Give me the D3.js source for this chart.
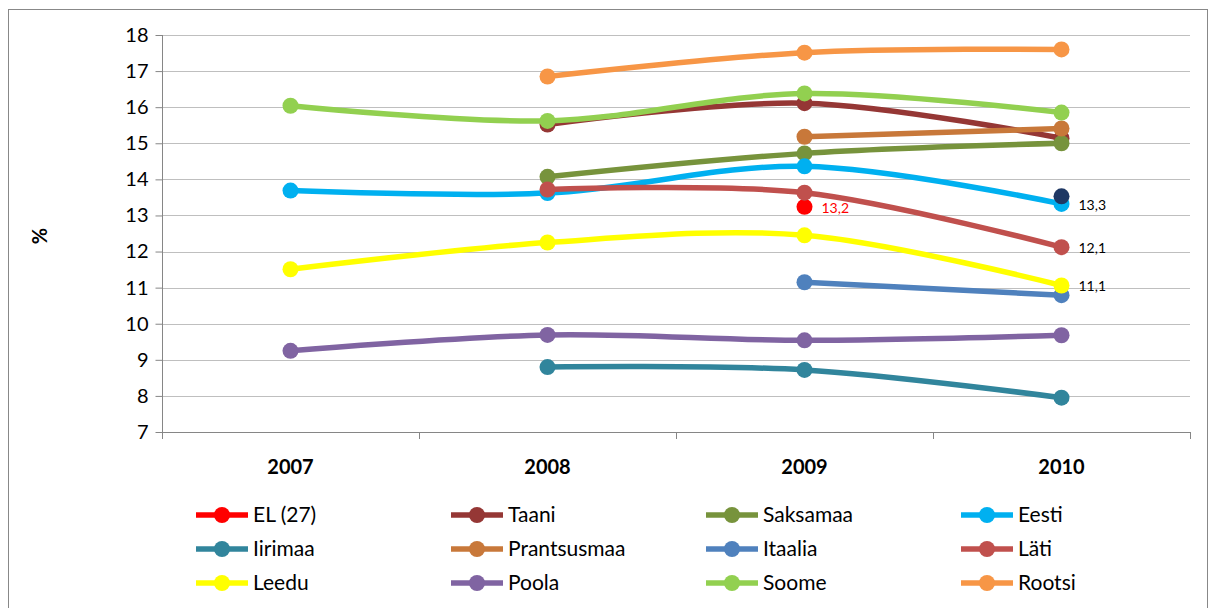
<!DOCTYPE html>
<html>
<head>
<meta charset="utf-8">
<script src="https://cdn.jsdelivr.net/npm/d3@7"></script>
<style>
  body { margin: 0; background: #fff; }
  svg { font-family: Lato, "Open Sans", sans-serif; }
</style>
</head>
<body>
<div id="chart"></div>
<script>
// years on the x axis
var years = ["2007", "2008", "2009", "2010"];
var yTicks = [7, 8, 9, 10, 11, 12, 13, 14, 15, 16, 17, 18];

// values per series, null where the series has no point
var el27        = [null, null, 13.24, null];
var taani       = [null, 15.52, 16.11, 15.14];
var saksamaa    = [null, 14.07, 14.72, 15.0];
var eesti       = [13.69, 13.62, 14.36, 13.32];
var iirimaa     = [null, 8.8, 8.72, 7.95];
var prantsusmaa = [null, null, 15.18, 15.41];
var itaalia     = [null, null, 11.15, 10.79];
var lati        = [null, 13.72, 13.63, 12.12];
var leedu       = [11.51, 12.25, 12.45, 11.06];
var poola       = [9.25, 9.69, 9.54, 9.68];
var soome       = [16.04, 15.62, 16.38, 15.85];
var rootsi      = [null, 16.85, 17.51, 17.6];
var extraPoint  = [null, null, null, 13.53]; // dark point, no legend entry

var seriesNames = ["EL (27)", "Taani", "Saksamaa", "Eesti", "Iirimaa", "Prantsusmaa",
                   "Itaalia", "Läti", "Leedu", "Poola", "Soome", "Rootsi"];
var seriesValues = [el27, taani, saksamaa, eesti, iirimaa, prantsusmaa,
                    itaalia, lati, leedu, poola, soome, rootsi];
var seriesColors = ["#FF0000", "#953735", "#77933C", "#00B0F0", "#31859C", "#C8783A",
                    "#4F81BD", "#C0504D", "#FFFF00", "#8064A2", "#92D050", "#F79646"];

// data labels: [series index, year index, text, color]
var dataLabels = [
  [0, 2, "13,2", "#FF0000"],
  [3, 3, "13,3", "#000"],
  [7, 3, "12,1", "#000"],
  [8, 3, "11,1", "#000"]
];

var width = 1215, height = 608;
var svg = d3.select("#chart").append("svg")
    .attr("width", width)
    .attr("height", height);

// outer chart border
svg.append("rect")
    .attr("x", 8.5).attr("y", 9.5)
    .attr("width", 1199).attr("height", 620)
    .attr("fill", "none")
    .attr("stroke", "#888");

var x = d3.scaleBand().domain(years).range([162, 1190]);
var y = d3.scaleLinear().domain([7, 18]).range([432, 35]);
function cx(i) { return x(years[i]) + x.bandwidth() / 2; }

// gridlines
svg.append("g").selectAll("line")
    .data(yTicks.slice(1))
    .enter().append("line")
    .attr("x1", 162).attr("x2", 1190)
    .attr("y1", function(d) { return Math.round(y(d)) + 0.5; })
    .attr("y2", function(d) { return Math.round(y(d)) + 0.5; })
    .attr("stroke", "#BFBFBF");

// y axis
var yAxis = svg.append("g")
    .attr("transform", "translate(162.5,0)")
    .call(d3.axisLeft(y).tickValues(yTicks).tickSize(7).tickPadding(7));
yAxis.select(".domain").attr("stroke", "#868686").attr("d", "M0," + y(18) + "V" + y(7));
yAxis.selectAll(".tick line").attr("stroke", "#868686");
yAxis.selectAll(".tick text")
    .attr("font-size", 20).attr("fill", "#000")
    .attr("font-family", "Lato, 'Open Sans', sans-serif");

// x axis line and boundary ticks
svg.append("line")
    .attr("x1", 162).attr("x2", 1190)
    .attr("y1", 432.5).attr("y2", 432.5)
    .attr("stroke", "#868686");
var bounds = years.map(function(d) { return x(d); }).concat([x.range()[1]]);
svg.append("g").selectAll("line")
    .data(bounds)
    .enter().append("line")
    .attr("x1", function(d) { return Math.round(d) + 0.5; })
    .attr("x2", function(d) { return Math.round(d) + 0.5; })
    .attr("y1", 432).attr("y2", 439)
    .attr("stroke", "#868686");
svg.append("g").selectAll("text")
    .data(years)
    .enter().append("text")
    .attr("x", function(d) { return x(d) + x.bandwidth() / 2; })
    .attr("y", 474)
    .attr("text-anchor", "middle")
    .attr("font-size", 20).attr("font-weight", "bold")
    .text(function(d) { return d; });

// y axis title
svg.append("text")
    .attr("transform", "translate(47,236) rotate(-90)")
    .attr("text-anchor", "middle")
    .attr("font-size", 20).attr("font-weight", "bold")
    .text("%");

var line = d3.line()
    .defined(function(d) { return d != null; })
    .x(function(d, i) { return cx(i); })
    .y(function(d) { return y(d); })
    .curve(d3.curveCatmullRom.alpha(0.5));

seriesValues.forEach(function(vals, k) {
  var g = svg.append("g");
  g.append("path")
      .attr("d", line(vals))
      .attr("fill", "none")
      .attr("stroke", seriesColors[k])
      .attr("stroke-width", 5.5)
      .attr("stroke-linecap", "round");
  g.selectAll("circle")
      .data(vals.map(function(v, i) { return {v: v, i: i}; })
                .filter(function(d) { return d.v != null; }))
      .enter().append("circle")
      .attr("cx", function(d) { return cx(d.i); })
      .attr("cy", function(d) { return y(d.v); })
      .attr("r", 8)
      .attr("fill", seriesColors[k]);
});

// extra dark point
svg.append("g").selectAll("circle")
    .data(extraPoint.map(function(v, i) { return {v: v, i: i}; })
              .filter(function(d) { return d.v != null; }))
    .enter().append("circle")
    .attr("cx", function(d) { return cx(d.i); })
    .attr("cy", function(d) { return y(d.v); })
    .attr("r", 8)
    .attr("fill", "#1F3864");

// data labels
svg.append("g").selectAll("text")
    .data(dataLabels)
    .enter().append("text")
    .attr("x", function(d) { return cx(d[1]) + 17; })
    .attr("y", function(d) { return y(seriesValues[d[0]][d[1]]) + 6; })
    .attr("font-size", 14)
    .attr("fill", function(d) { return d[3]; })
    .text(function(d) { return d[2]; });

// legend
var legCols = [196, 451, 706, 961];
var legRows = [515, 549, 583];
var leg = svg.append("g").selectAll("g")
    .data(seriesNames)
    .enter().append("g")
    .attr("transform", function(d, i) {
      return "translate(" + legCols[i % 4] + "," + legRows[Math.floor(i / 4)] + ")";
    });
leg.append("line")
    .attr("x1", 0).attr("x2", 52)
    .attr("stroke", function(d, i) { return seriesColors[i]; })
    .attr("stroke-width", 5.5);
leg.append("circle")
    .attr("cx", 26).attr("r", 8)
    .attr("fill", function(d, i) { return seriesColors[i]; });
leg.append("text")
    .attr("x", 57).attr("y", 7)
    .attr("font-size", 21)
    .text(function(d) { return d; });
</script>
</body>
</html>
